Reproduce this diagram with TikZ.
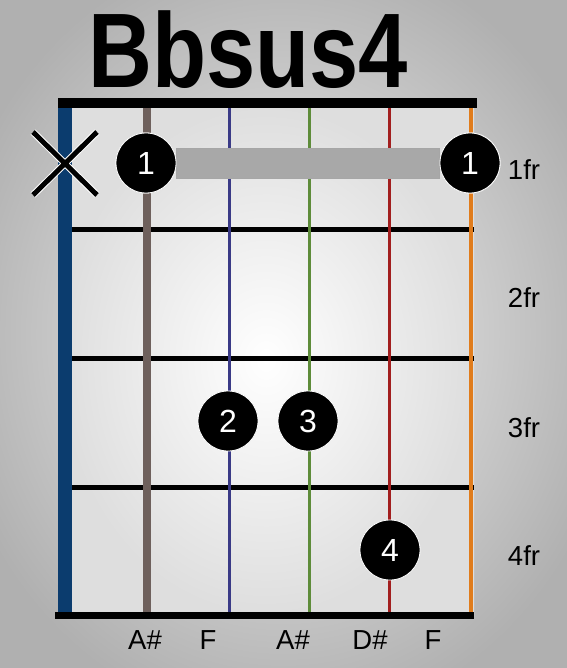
\documentclass[tikz,border=0pt]{standalone}
\usepackage{fontspec}
\setmainfont{Liberation Sans}
\definecolor{sBlue}{HTML}{0B3C6E}
\definecolor{sBrown}{HTML}{6E605C}
\definecolor{sNavy}{HTML}{3A3A86}
\definecolor{sGreen}{HTML}{5E8C3A}
\definecolor{sRed}{HTML}{A21E1E}
\definecolor{sOrange}{HTML}{E07C1C}
\definecolor{barre}{HTML}{A8A8A8}
\begin{document}
\begin{tikzpicture}[x=1pt,y=-1pt,
  dot/.style={circle,fill=black,draw=white,line width=0.8pt,minimum size=60pt,inner sep=0pt,text=white,font=\fontsize{32}{32}\selectfont},
  fretline/.style={line width=5pt,black},
  lbl/.style={font=\fontsize{27.5}{27.5}\selectfont,text=black}]
\useasboundingbox (0,0) rectangle (566,668);
% background
\shade[inner color=gray!10,outer color=gray!62] (-60,-60) rectangle (626,728);
\shade[inner color=white,outer color=gray!26] (58,104) rectangle (474,616);
% title
\node[anchor=base,font=\fontsize{106}{106}\selectfont\bfseries] (title) at (248,88) {\scalebox{0.835}[1]{Bbsus4}};
% nut and fret lines
\fill[black] (58,98) rectangle (477,108);
\draw[fretline] (58,229) -- (474,229);
\draw[fretline] (58,358) -- (474,358);
\draw[fretline] (58,487) -- (474,487);
\fill[black] (55,612) rectangle (474,619);
% strings
\fill[sBlue] (58,108) rectangle (72,612);
\fill[sBrown] (143,108) rectangle (151,612);
\draw[sNavy,line width=3pt] (229,108) -- (229,612);
\draw[sGreen,line width=3pt] (309,108) -- (309,612);
\draw[sRed,line width=3pt] (389,108) -- (389,612);
\draw[sOrange,line width=4pt] (471,108) -- (471,612);
% muted string
\draw[white,line width=7pt] (33,132) -- (97,195) (33,195) -- (97,132);
\draw[black,line width=5pt] (33,132) -- (97,195) (33,195) -- (97,132);
% barre and dots
\node[dot] (d1a) at (146,163) {1};
\node[dot] (d1b) at (470,163) {1};
\fill[barre,draw=gray!70,line width=0.6pt] (d1a.east |- 0,148) rectangle (d1b.west |- 0,178);
\node[dot] at (146,163) {1};
\node[dot] at (470,163) {1};
\node[dot] (d2) at (228,421) {2};
\node[dot] (d3) at (308,421) {3};
\node[dot] (d4) at (390,550) {4};
% fret labels
\node[lbl] (f1) at (524,170) {1fr};
\node[lbl] (f2) at (524,298) {2fr};
\node[lbl] (f3) at (524,428) {3fr};
\node[lbl] (f4) at (524,556) {4fr};
% string labels
\node[lbl] (n1) at (145,640) {A\#};
\node[lbl] (n2) at (208,640) {F};
\node[lbl] (n3) at (293,640) {A\#};
\node[lbl] (n4) at (370,640) {D\#};
\node[lbl] (n5) at (433,640) {F};
\end{tikzpicture}
\end{document}
